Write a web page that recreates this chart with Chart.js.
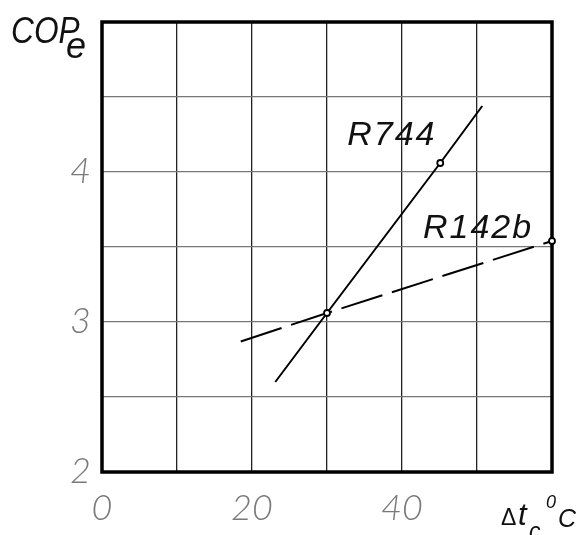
<!DOCTYPE html>
<html>
<head>
<meta charset="utf-8">
<script src="https://cdn.jsdelivr.net/npm/chart.js@4"></script>
<style>
    body { margin: 0; background: #fff; }
    #chart { display: block; }
</style>
</head>
<body>
<canvas id="chart" width="581" height="535"></canvas>
<script>
// values
const r744X = [23.1, 30, 45.1, 50.7];
const r744Y = [2.6, 3.06, 4.06, 4.44];
const r142bX = [18.5, 30, 60];
const r142bY = [2.87, 3.06, 3.54];
const seriesNames = ['R744', 'R142b'];
const xTickLabels = [0, 20, 40];
const yTickLabels = [2, 3, 4];

const FONT = '"Liberation Sans", Arial, sans-serif';
const THIN = 'Lato, "Liberation Sans", sans-serif';

function toPoints(xs, ys) {
    return xs.map((x, i) => ({ x: x, y: ys[i] }));
}

// frame, tick numbers, axis titles and series names
const drawingPlugin = {
    id: 'drawing',
    beforeDatasetsDraw(chart) {
        const { ctx, chartArea: a } = chart;
        ctx.save();
        ctx.strokeStyle = '#000';
        ctx.lineWidth = 3.5;
        ctx.strokeRect(a.left, a.top, a.right - a.left, a.bottom - a.top);
        ctx.restore();
    },
    afterDatasetsDraw(chart) {
        const { ctx, scales } = chart;
        const xs = scales.x, ys = scales.y;
        ctx.save();

        // tick numbers
        ctx.fillStyle = '#7a7a7a';
        ctx.font = 'italic 300 36px ' + THIN;
        ctx.textAlign = 'center';
        ctx.textBaseline = 'top';
        xTickLabels.forEach(v => {
            ctx.fillText(String(v), xs.getPixelForValue(v), ys.bottom + 18);
        });
        ctx.textAlign = 'right';
        ctx.textBaseline = 'middle';
        yTickLabels.forEach(v => {
            ctx.fillText(String(v), xs.left - 11, ys.getPixelForValue(v) - 1);
        });

        // series names
        ctx.fillStyle = '#111';
        ctx.font = 'italic 34px ' + FONT;
        ctx.textAlign = 'left';
        ctx.textBaseline = 'alphabetic';
        ctx.letterSpacing = '2px';
        ctx.fillText(seriesNames[0], xs.getPixelForValue(32.7), ys.getPixelForValue(4.18));
        ctx.fillText(seriesNames[1], xs.getPixelForValue(42.8), ys.getPixelForValue(3.56));
        ctx.letterSpacing = '0px';

        // y title: COP with subscript e
        ctx.save();
        ctx.translate(11, 43);
        ctx.scale(0.88, 1);
        ctx.font = 'italic 36px ' + FONT;
        ctx.fillText('COP', 0, 0);
        ctx.restore();
        ctx.font = 'italic 36px ' + FONT;
        ctx.fillText('e', 66, 58);

        // x title: Δt c, °C
        ctx.font = '23px ' + FONT;
        ctx.fillText('\u0394', 501, 525);
        ctx.font = 'italic 31px ' + FONT;
        ctx.fillText('t', 518, 525);
        ctx.font = 'italic 23px ' + FONT;
        ctx.fillText('c,', 529, 539);
        ctx.font = 'italic 18px ' + FONT;
        ctx.fillText('0', 546, 508);
        ctx.font = 'italic 25px ' + FONT;
        ctx.fillText('C', 558, 527);

        ctx.restore();
    }
};

const ctx = document.getElementById('chart').getContext('2d');
new Chart(ctx, {
    type: 'scatter',
    data: {
        datasets: [
            {
                label: seriesNames[0],
                data: toPoints(r744X, r744Y),
                showLine: true,
                borderColor: '#000',
                borderWidth: 2,
                pointRadius: [0, 3, 3, 0],
                pointBorderWidth: 1.8,
                pointBorderColor: '#000',
                pointBackgroundColor: '#fff',
                clip: false
            },
            {
                label: seriesNames[1],
                data: toPoints(r142bX, r142bY),
                showLine: true,
                borderColor: '#000',
                borderWidth: 2,
                borderDash: [43, 10],
                pointRadius: [0, 0, 3],
                pointBorderWidth: 1.8,
                pointBorderColor: '#000',
                pointBackgroundColor: '#fff',
                clip: false
            }
        ]
    },
    options: {
        responsive: false,
        animation: false,
        devicePixelRatio: 1,
        layout: { padding: { left: 102, top: 22, right: 29, bottom: 63 } },
        plugins: {
            legend: { display: false },
            tooltip: { enabled: false }
        },
        scales: {
            x: {
                type: 'linear',
                min: 0,
                max: 60,
                ticks: { display: false, stepSize: 10 },
                grid: { color: '#222', lineWidth: 1.3, drawTicks: false },
                border: { display: false }
            },
            y: {
                type: 'linear',
                min: 2,
                max: 5,
                ticks: { display: false, stepSize: 0.5 },
                grid: { color: '#777', lineWidth: 1.3, drawTicks: false },
                border: { display: false }
            }
        }
    },
    plugins: [drawingPlugin]
});
</script>
</body>
</html>
